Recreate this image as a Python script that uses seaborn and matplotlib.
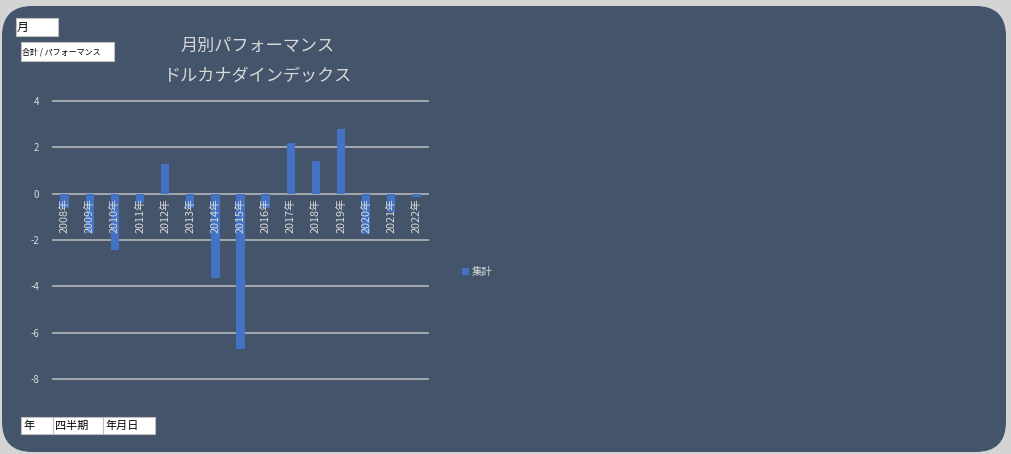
import matplotlib
matplotlib.use("Agg")
import matplotlib.pyplot as plt
from matplotlib.patches import FancyBboxPatch, Rectangle
import pandas as pd
import seaborn as sns

# Yearly performance values (USD/CAD index)
years = ["2008年", "2009年", "2010年", "2011年", "2012年", "2013年", "2014年", "2015年",
         "2016年", "2017年", "2018年", "2019年", "2020年", "2021年", "2022年"]
performance = [-0.6, -1.7, -2.43, -0.4, 1.29, -0.6, -3.65, -6.7,
               -0.6, 2.17, 1.42, 2.78, -1.75, -0.8, -0.13]
y_ticks = [4, 2, 0, -2, -4, -6, -8]

title_lines = ["月別パフォーマンス", "ドルカナダインデックス"]
series_name = "集計"
filter_label = "月"
value_label = "合計 / パフォーマンス"
row_fields = ["年", "四半期", "年月日"]

sns.set_style("white")
plt.rcParams["font.family"] = ["Noto Sans CJK JP", "DejaVu Sans"]

W, H = 1011, 454
panel_color = "#44546A"
bar_color = "#4472C4"
text_color = "#D9D9D9"
grid_color = "#BFBFBF"

fig = plt.figure(figsize=(W / 100, H / 100), dpi=100)
fig.patch.set_facecolor("#D4D4D4")


def fx(px):
    return px / W


def fy(py):
    return 1 - py / H


# rounded chart panel, kept behind the axes
panel = FancyBboxPatch((fx(2), fy(452)), fx(1006) - fx(2), fy(6) - fy(452),
                       boxstyle="round,pad=0,rounding_size=0.03",
                       mutation_aspect=W / H,
                       transform=fig.transFigure, facecolor=panel_color,
                       edgecolor="none", zorder=-5)
fig.patches.append(panel)

ymin, ymax = -8.1, 4.1
top_px, bot_px = 98.7, 381.3
ax = fig.add_axes([fx(52), fy(bot_px), fx(429) - fx(52), (bot_px - top_px) / H])
ax.set_facecolor("none")
ax.set_zorder(1)

df = pd.DataFrame({"year": years, "value": performance})
sns.barplot(data=df, x="year", y="value", color=bar_color, width=0.33,
            saturation=1, label=series_name, ax=ax, zorder=2,
            edgecolor="none", linewidth=0)

ax.set_ylim(ymin, ymax)
ax.set_xlim(-0.5, len(years) - 0.5)
ax.set_yticks(y_ticks)
ax.set_yticklabels([str(v) for v in y_ticks])
ax.set_xlabel("")
ax.set_ylabel("")
for v in y_ticks:
    ax.axhline(v, color=grid_color, lw=1.1, zorder=1)

for s in ax.spines.values():
    s.set_visible(False)
ax.spines["bottom"].set_position(("data", 0))
ax.tick_params(axis="both", length=0, colors=text_color, labelsize=7)
ax.tick_params(axis="y", pad=9)
ax.tick_params(axis="x", pad=3, labelsize=7.8)
for lab in ax.get_xticklabels():
    lab.set_rotation(90)
    lab.set_va("top")
    lab.set_ha("center")
ax.xaxis.set_zorder(3)

leg = ax.legend(loc="center left", bbox_to_anchor=(fx(453), fy(272)),
                bbox_transform=fig.transFigure, frameon=False,
                handlelength=0.6, handleheight=0.6, handletextpad=0.25,
                fontsize=7.5, labelcolor=text_color)

# chart title
fig.text(fx(258), fy(46), title_lines[0], ha="center", va="center",
         fontsize=12.3, color=text_color)
fig.text(fx(258), fy(76), title_lines[1], ha="center", va="center",
         fontsize=12.3, color=text_color)


def field_box(x0, y0, x1, y1, text, size, pad_x=2):
    fig.patches.append(Rectangle((fx(x0), fy(y1)), fx(x1) - fx(x0), fy(y0) - fy(y1),
                                 transform=fig.transFigure, facecolor="white",
                                 edgecolor="#BFBFBF", lw=0.8, zorder=5))
    fig.text(fx(x0 + pad_x), fy((y0 + y1) / 2), text, ha="left", va="center",
             fontsize=size, color="black", zorder=6)


field_box(16, 18, 58, 36, filter_label, 8.5, pad_x=1)
field_box(21, 42, 114, 61, value_label, 5.8, pad_x=1)
field_box(21, 417, 53, 434, row_fields[0], 8)
field_box(53, 417, 103, 434, row_fields[1], 8)
field_box(103, 417, 155, 434, row_fields[2], 8)

fig.savefig("out.png", dpi=100, facecolor=fig.get_facecolor())
